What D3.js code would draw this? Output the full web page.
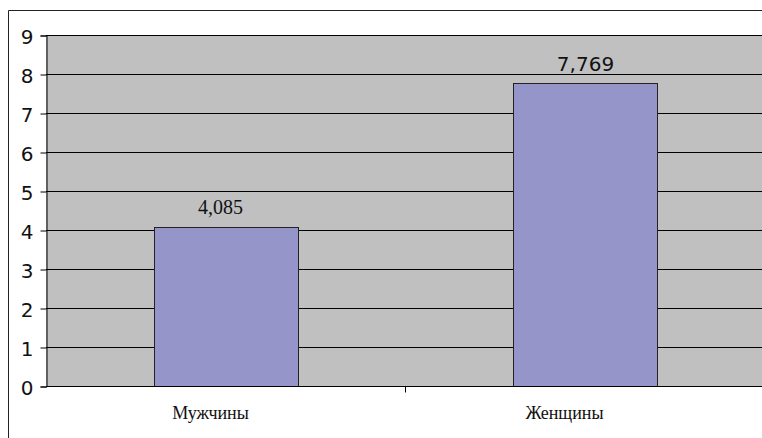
<!DOCTYPE html>
<html><head><meta charset="utf-8">
<script src="https://cdn.jsdelivr.net/npm/d3@7"></script>
<style>html,body{margin:0;padding:0;background:#fff;overflow:hidden}svg{display:block}</style>
</head><body>
<script>
const categories = ["Мужчины", "Женщины"];
const values = [4.085, 7.769];
const valueLabels = ["4,085", "7,769"];
const yTicks = [0,1,2,3,4,5,6,7,8,9];

(function () {
const W = 762, H = 438;
const svg = d3.select("body").append("svg").attr("width", W).attr("height", H);

// outer chart frame: only left and top edges are inside the picture
svg.append("path").attr("d", `M8.5,${H}V10.5H${W}`)
  .attr("fill", "none").attr("stroke", "#222").attr("stroke-width", 1);

const pLeft = 46, pRight = W, pTop = 35, pBottom = 386;
const x = d3.scaleBand().domain(categories).range([pLeft, pLeft + 718]).paddingInner(0).paddingOuter(0);
const y = d3.scaleLinear().domain([0, 9]).range([pBottom, pTop]);

// plot area
svg.append("rect").attr("x", pLeft).attr("y", pTop).attr("width", pRight - pLeft).attr("height", pBottom - pTop)
  .attr("fill", "#C0C0C0");

// gridlines
svg.append("g").selectAll("line").data(yTicks.filter(d => d > 0)).join("line")
  .attr("x1", pLeft).attr("x2", pRight)
  .attr("y1", d => Math.round(y(d)) + 0.5).attr("y2", d => Math.round(y(d)) + 0.5)
  .attr("stroke", "#000").attr("stroke-width", 1);

// bars
const bw = x.bandwidth() / 2.5;
svg.append("g").selectAll("rect").data(values).join("rect")
  .attr("x", (d, i) => Math.round(x(categories[i]) + x.bandwidth() / 2 - bw / 2) + 0.5)
  .attr("y", d => Math.round(y(d)) + 0.5)
  .attr("width", Math.round(bw))
  .attr("height", d => Math.round(y(0)) - Math.round(y(d)))
  .attr("fill", "#9595C9").attr("stroke", "#222").attr("stroke-width", 1);

// y axis
const yAxis = d3.axisLeft(y).tickValues(yTicks).tickSize(6).tickPadding(7).tickFormat(d3.format("d"));
const gy = svg.append("g").attr("transform", `translate(${pLeft + 0.5},0.5)`).call(yAxis);
gy.select(".domain").attr("stroke", "#000");
gy.selectAll(".tick line").attr("stroke", "#000");
gy.selectAll("text").attr("font-family", "DejaVu Sans, sans-serif").attr("font-size", 20)
  .attr("dy", "0.4em").attr("fill", "#111");

// x axis
const xAxis = d3.axisBottom(x).tickSize(0).tickFormat("");
const gx = svg.append("g").attr("transform", `translate(0,${pBottom + 0.5})`).call(xAxis);
gx.select(".domain").attr("stroke", "#000").attr("d", `M${pLeft},0H${pRight}`);
gx.selectAll(".tick").remove();
gx.append("g").selectAll("line").data(categories.slice(1)).join("line")
  .attr("x1", d => Math.round(x(d)) + 0.5).attr("x2", d => Math.round(x(d)) + 0.5)
  .attr("y1", 0).attr("y2", 6).attr("stroke", "#000");

// category labels
const catShift = [-15, -20];
svg.append("g").selectAll("text").data(categories).join("text")
  .attr("x", (d, i) => x(d) + x.bandwidth() / 2 + catShift[i])
  .attr("y", 419)
  .attr("text-anchor", "middle")
  .attr("font-family", "Liberation Serif, Times New Roman, serif")
  .attr("font-size", 18).attr("fill", "#111")
  .text(d => d);

// value labels
const vFonts = ["Liberation Serif, Times New Roman, serif", "DejaVu Sans, sans-serif"];
const vSizes = [20, 20];
const vShift = [-5, 1];
svg.append("g").selectAll("text").data(values).join("text")
  .attr("x", (d, i) => x(categories[i]) + x.bandwidth() / 2 + vShift[i])
  .attr("y", d => y(d) - 12.5)
  .attr("text-anchor", "middle")
  .attr("font-family", (d, i) => vFonts[i])
  .attr("font-size", (d, i) => vSizes[i]).attr("fill", "#111")
  .text((d, i) => valueLabels[i]);
})();
</script>
</body></html>
